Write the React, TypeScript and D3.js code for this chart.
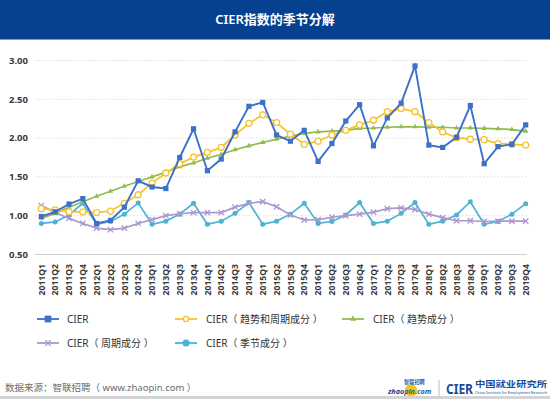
import * as d3 from 'd3'

const quarters = [
  '2011Q1', '2011Q2', '2011Q3', '2011Q4', '2012Q1', '2012Q2', '2012Q3', '2012Q4',
  '2013Q1', '2013Q2', '2013Q3', '2013Q4', '2014Q1', '2014Q2', '2014Q3', '2014Q4',
  '2015Q1', '2015Q2', '2015Q3', '2015Q4', '2016Q1', '2016Q2', '2016Q3', '2016Q4',
  '2017Q1', '2017Q2', '2017Q3', '2017Q4', '2018Q1', '2018Q2', '2018Q3', '2018Q4',
  '2019Q1', '2019Q2', '2019Q3', '2019Q4',
]

const cierValues = [
  0.99, 1.05, 1.15, 1.22, 0.9, 0.94, 1.11, 1.45,
  1.37, 1.35, 1.75, 2.12, 1.58, 1.73, 2.08, 2.41,
  2.46, 2.04, 1.96, 2.1, 1.7, 1.93, 2.22, 2.43,
  1.9, 2.26, 2.45, 2.93, 1.91, 1.88, 2.01, 2.42,
  1.67, 1.89, 1.92, 2.17,
]

const trendCycleValues = [
  1.09, 1.075, 1.05, 1.05, 1.04, 1.06, 1.16, 1.27,
  1.42, 1.55, 1.67, 1.755, 1.815, 1.88, 2.04, 2.19,
  2.3, 2.2, 2.05, 1.92, 1.96, 2.04, 2.1, 2.17,
  2.23, 2.34, 2.38, 2.34, 2.2, 2.08, 2.005, 1.985,
  1.98, 1.93, 1.92, 1.91,
]

const trendValues = [
  0.966, 1.03, 1.11, 1.18, 1.25, 1.315, 1.38, 1.44,
  1.5, 1.56, 1.63, 1.68, 1.74, 1.79, 1.85, 1.9,
  1.945, 1.985, 2.025, 2.06, 2.08, 2.09, 2.1, 2.125,
  2.13, 2.14, 2.145, 2.145, 2.14, 2.14, 2.13, 2.13,
  2.125, 2.12, 2.11, 2.09,
]

const cycleValues = [
  1.13, 1.04, 0.965, 0.9, 0.84, 0.82, 0.84, 0.9,
  0.95, 1.0, 1.025, 1.04, 1.04, 1.04, 1.11, 1.16,
  1.18, 1.115, 1.01, 0.945, 0.95, 0.98, 1.0, 1.02,
  1.045, 1.09, 1.1, 1.08, 1.02, 0.975, 0.935, 0.935,
  0.925, 0.93, 0.93, 0.93,
]

const seasonalValues = [
  0.9, 0.92, 1.01, 1.16, 0.89, 0.925, 1.02, 1.165,
  0.89, 0.93, 1.02, 1.16, 0.89, 0.93, 1.03, 1.17,
  0.89, 0.93, 1.02, 1.16, 0.9, 0.925, 1.01, 1.17,
  0.9, 0.93, 1.03, 1.17, 0.89, 0.93, 1.01, 1.18,
  0.89, 0.925, 1.02, 1.155,
]

const yTicks = [0.5, 1.0, 1.5, 2.0, 2.5, 3.0]

type MarkerKind = 'square' | 'ring' | 'triangle' | 'cross' | 'dot'

const series: { name: string; values: number[]; color: string; marker: MarkerKind }[] = [
  { name: 'CIER（ 季节成分 ）', values: seasonalValues, color: '#4bb3d4', marker: 'dot' },
  { name: 'CIER（ 周期成分 ）', values: cycleValues, color: '#ac97cf', marker: 'cross' },
  { name: 'CIER（ 趋势成分 ）', values: trendValues, color: '#92bb4e', marker: 'triangle' },
  { name: 'CIER（ 趋势和周期成分 ）', values: trendCycleValues, color: '#f6c22b', marker: 'ring' },
  { name: 'CIER', values: cierValues, color: '#3d70c8', marker: 'square' },
]

const FONT = '"Noto Sans", "Noto Sans CJK SC", sans-serif'

function Marker({ kind, cx, cy, color, big = false }: { kind: MarkerKind; cx: number; cy: number; color: string; big?: boolean }) {
  const s = big ? 1.3 : 1
  if (kind === 'square') {
    const h = 2.6 * s
    return <rect x={cx - h} y={cy - h} width={h * 2} height={h * 2} fill={color} />
  }
  if (kind === 'ring') {
    return <circle cx={cx} cy={cy} r={big ? 2.6 : 3} fill="#fff" stroke={color} strokeWidth={1.3} />
  }
  if (kind === 'triangle') {
    const p = d3.symbol(d3.symbolTriangle, 12 * s)()
    return <path d={p ?? ''} transform={`translate(${cx},${cy})`} fill={color} />
  }
  if (kind === 'cross') {
    const h = 2.7
    return (
      <path
        d={`M${cx - h},${cy - h}L${cx + h},${cy + h}M${cx - h},${cy + h}L${cx + h},${cy - h}`}
        stroke={color}
        strokeWidth={1.3}
      />
    )
  }
  return <circle cx={cx} cy={cy} r={big ? 3.6 : 2.5} fill={color} />
}

export default function App() {
  const plotLeft = 35
  const plotRight = 527
  const x = d3.scalePoint<string>().domain(quarters).range([41.3, 525.7])
  const y = d3.scaleLinear().domain([0.5, 3]).range([254.5, 60.5])

  const line = d3
    .line<number>()
    .x((_, i) => x(quarters[i]) ?? 0)
    .y((d) => y(d))

  const legendItems = [
    { s: series[4], lx: 37, tx: 67, ly: 319 },
    { s: series[3], lx: 175, tx: 206, ly: 319 },
    { s: series[2], lx: 342, tx: 373, ly: 319 },
    { s: series[1], lx: 37, tx: 67, ly: 343 },
    { s: series[0], lx: 175, tx: 206, ly: 343 },
  ]

  return (
    <>
      <style>{'body{margin:0}'}</style>
      <svg width={550} height={399} style={{ display: 'block', fontFamily: FONT }}>
        <rect width={550} height={399} fill="#fff" />

        {/* header band */}
        <rect x={0} y={0} width={550} height={39} fill="#06418f" />
        <rect x={0} y={39} width={550} height={1} fill="#7f9cc9" />
        <text x={275} y={23.5} textAnchor="middle" fill="#fff" fontSize={13} fontWeight={600}>
          CIER指数的季节分解
        </text>

        {/* grid */}
        {yTicks.map((t) => (
          <g key={t}>
            <line
              x1={plotLeft}
              x2={plotRight}
              y1={y(t)}
              y2={y(t)}
              stroke={t === 0.5 ? '#cfcfcf' : '#e4e4e4'}
              strokeWidth={1}
              strokeDasharray={t === 0.5 ? undefined : '2,1.5'}
            />
            <text x={28} y={y(t) + 3.3} textAnchor="end" fontSize={9.5} fontWeight={700} fill="#3a3a3a">
              {t.toFixed(2)}
            </text>
          </g>
        ))}

        {/* x labels */}
        {quarters.map((q) => (
          <text
            key={q}
            transform={`translate(${(x(q) ?? 0) + 3.2},264) rotate(-90)`}
            textAnchor="end"
            fontSize={8.6}
            fontWeight={700}
            fill="#3a3a3a"
          >
            {q}
          </text>
        ))}

        {/* series */}
        {series.map((s) => (
          <g key={s.name}>
            <path d={line(s.values) ?? ''} fill="none" stroke={s.color} strokeWidth={s.marker === 'square' ? 1.9 : 1.7} />
            {s.values.map((v, i) => (
              <Marker key={i} kind={s.marker} cx={x(quarters[i]) ?? 0} cy={y(v)} color={s.color} />
            ))}
          </g>
        ))}

        {/* legend */}
        {legendItems.map(({ s, lx, tx, ly }) => (
          <g key={s.name}>
            <line x1={lx} x2={lx + 22} y1={ly} y2={ly} stroke={s.color} strokeWidth={1.8} />
            <Marker kind={s.marker} cx={lx + 11} cy={ly} color={s.color} big />
            <text x={tx} y={ly + 3.6} fontSize={10} fill="#333">
              {s.name}
            </text>
          </g>
        ))}

        {/* footer */}
        <text x={5} y={391} fontSize={9.5} fill="#6b6b6b">
          数据来源：智联招聘（ www.zhaopin.com ）
        </text>

        <g>
          <circle cx={411} cy={390.5} r={6.2} fill="#f7c21a" />
          <text x={388} y={394} fontSize={7.2} fontWeight={700} fontStyle="italic">
            <tspan fill="#1d3f8e">zhao</tspan>
            <tspan fill="#1d5fb5">pin.com</tspan>
          </text>
          <text x={404} y={383.5} fontSize={5.2} fontWeight={700} fill="#1d5fb5">
            智联招聘
          </text>
        </g>
        <line x1={439} x2={439} y1={380} y2={396} stroke="#bdbdbd" strokeWidth={1} />
        <text x={446} y={394} fontSize={15} fontWeight={700} fill="#1b4c9c" textLength={27} lengthAdjust="spacingAndGlyphs">
          CIER
        </text>
        <text x={475} y={387} fontSize={8.5} fontWeight={700} fill="#1b4c9c" textLength={72} lengthAdjust="spacingAndGlyphs">
          中国就业研究所
        </text>
        <text x={475} y={393.5} fontSize={3.6} fill="#1b4c9c" textLength={72} lengthAdjust="spacingAndGlyphs">
          China Institute for Employment Research
        </text>

        <rect x={0} y={396} width={550} height={3} fill="#d4d4d4" />
      </svg>
    </>
  )
}
